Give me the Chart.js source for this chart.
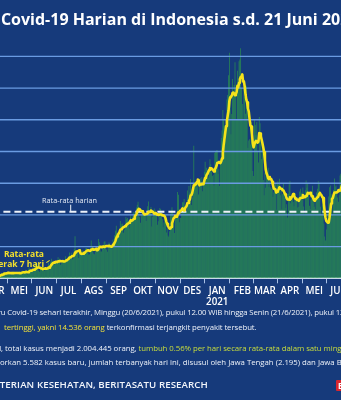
<!DOCTYPE html>
<html><head><meta charset="utf-8">
<script src="https://cdn.jsdelivr.net/npm/chart.js@4"></script>
<style>
html,body{margin:0;padding:0;}
body{width:341px;height:400px;overflow:hidden;background:#163a7b;position:relative;font-family:'Open Sans',sans-serif;color:#fff;}
#wrap{position:absolute;left:-40px;top:0;width:411px;height:320px;}
.t{position:absolute;left:0;white-space:nowrap;line-height:1;}
.f{font-size:7.8px;color:#eef2f9;}
.y1{color:#f1e13a;}
.y2{color:#c9de3c;}
</style></head><body>
<div id="wrap"><canvas id="c"></canvas></div>

<div class="t" data-ax="1" style="top:11px;font-size:16px;font-weight:700;">Kasus <span class="a">Covid-19 Harian di Indonesia s.d. 21 Juni 2021</span></div>

<div class="t" data-ax="42" style="top:197px;font-size:7.3px;color:#e6ecf6;"><span class="a">Rata-rata harian</span></div>
<div class="t" style="top:249px;left:-30px;width:74px;text-align:right;font-size:8.5px;font-weight:700;color:#f3e02c;line-height:10px;">Rata-rata<br>bergerak 7 hari</div>
<div style="position:absolute;left:46px;top:261px;width:4px;height:1px;background:#f3e02c;transform:rotate(-35deg);"></div>

<div class="t f" data-ax="7.3" data-bx="341" style="top:309px;">Pertambahan kasus baru <span class="a">Covid-19</span> sehari terakhir, Minggu (20/6/2021), pukul 12.00 WIB hingga Senin (21/6/2021), pukul 1<span class="b">2.00 WIB,</span></div>
<div class="t f" data-ax="37" data-bx="256" style="top:324px;"><span class="y1">tertinggi, <span class="a">yakni</span> 14.536 orang</span> terkonfirmasi terjangkit penyakit tersebut.<span class="b"></span></div>
<div class="t f" data-ax="5" data-bx="341.5" style="top:345px;">Secara nasional, <span class="a">total</span> kasus menjadi 2.004.445 orang, <span class="y2">tumbuh 0.56% per hari secara rata-rata dalam satu ming<span class="b">gu</span></span></div>
<div class="t f" data-ax="22.7" data-bx="341.5" style="top:359px;">DKI Jakarta melaporkan <span class="a">5.582</span> kasus baru, jumlah terbanyak hari ini, disusul oleh Jawa Tengah (2.195) dan Jawa B<span class="b">arat</span></div>
<div class="t" data-ax="36.7" data-bx="207" style="top:380px;font-size:9.7px;font-weight:600;color:#f2f5fb;">SUMBER: KEMENTERIAN <span class="a">KESEHATAN,</span> BERITASATU RESEARCH<span class="b"></span></div>
<div style="position:absolute;left:336px;top:380px;width:20px;height:11px;background:#d9262f;border-radius:1px;color:#fff;font:700 8px 'Open Sans';line-height:11px;padding-left:2px;">B1</div>

<script>
// ---- data (daily new cases, Indonesia, from 2 Mar 2020) ----
const tanggalMulai = [2020, 2, 2];
const bulanLabel = ['JAN','FEB','MAR','APR','MEI','JUN','JUL','AGS','SEP','OKT','NOV','DES'];
const rataHarian = 4202;
const harian = [
2,0,0,0,2,0,2,13,8,7,0,35,27,21,17,38,55,82,60,81,64,65,107,105,103,153,109,130,129,114,
149,113,196,106,181,218,247,218,337,219,330,399,316,282,297,380,407,325,327,185,375,283,357,436,396,275,214,415,260,347,
433,292,349,395,484,367,338,336,533,387,233,484,689,568,490,529,489,496,486,693,973,634,949,526,479,415,686,687,678,557,700,
467,609,684,585,703,993,672,847,1043,1241,979,1111,1014,857,1017,1106,1031,1331,1041,1226,862,954,1051,1113,1178,1041,1385,1198,1082,1293,
1385,1624,1301,1447,1607,1209,1268,1853,2657,1611,1671,1681,1282,1591,1522,1574,1462,1752,1639,1693,1655,1882,1906,1761,1868,1492,1525,1748,2381,1904,2040,
1560,1519,1679,1922,1815,1882,2473,2277,1893,1687,1693,1942,2098,2307,2345,2081,1821,1673,1902,2266,2197,2090,2037,1877,2447,2306,2719,3003,3308,2858,2743,
2775,3075,3622,3269,3444,3444,2880,3046,3307,3861,3737,3806,3636,3141,3507,3963,3635,3891,4168,3989,4176,4071,4465,4634,4823,4494,3874,3509,4002,4284,
4174,4317,4007,3992,3622,4056,4538,4850,4094,4294,4497,3267,3906,4127,4411,4301,4105,4070,3373,3602,4267,4432,4369,4070,3732,3222,3520,4029,3565,2897,3143,
2696,2618,2973,4065,4262,4478,4262,3880,2853,3779,3770,4173,5444,5272,3535,3807,3807,4265,4798,4792,4998,4360,4442,4192,5534,4917,5828,5418,6267,4617,
5092,5533,8369,5803,6027,6089,5754,6058,5292,6033,6310,5938,6389,5489,6120,6726,7354,6689,6982,6848,6347,6930,7514,7199,6725,6459,6528,5854,7903,8002,8074,
8072,6585,6877,5826,7445,8854,9321,10617,10046,9640,8692,10047,11278,11557,12818,14224,11287,9086,10365,12568,11703,12191,13632,11788,9994,13094,11948,13695,13802,14518,12001,
10994,9961,11984,11434,10379,12156,10827,8242,8700,8776,8435,9869,8844,6765,6462,10029,9687,9039,9869,8054,7300,10180,9775,8493,7533,8232,6208,5241,
6680,5712,6808,6619,6971,5767,6172,5735,5633,5753,5144,5414,5599,6000,4329,5980,6116,5898,6279,5233,5656,4364,5324,6005,5112,5405,4445,4669,3842,5331,5937,
6142,4737,5105,5145,4829,4549,5325,5332,4900,4471,5115,4503,5476,5656,5390,4940,5722,4534,4101,5549,6177,5720,5943,5436,4585,4369,4952,5241,5833,4801,
4512,5180,4360,5430,5650,6130,5960,5020,4510,4020,4640,5120,3450,2630,2385,3080,3600,4295,5158,5746,5862,5296,5094,3988,5576,6293,5797,5862,5465,5093,4824,
5246,6486,6594,6878,6555,6993,6294,6054,7725,8892,8083,8161,9868,8189,8161,9944,12624,12990,12906,13737,14536
];
const rata7 = [
0,0,0,0,1,1,1,2,4,5,5,9,13,16,16,21,28,39,43,51,57,64,73,81,84,97,101,110,119,120,
127,128,134,134,141,154,173,183,215,218,250,281,295,300,311,318,344,344,333,315,328,326,323,327,337,330,334,339,336,335,
334,319,330,356,366,381,380,366,400,406,383,383,429,461,483,483,497,535,535,536,594,614,674,680,677,667,666,625,631,575,600,
599,626,626,611,615,677,673,728,790,869,925,984,987,1013,1037,1046,1016,1067,1057,1087,1088,1079,1071,1083,1061,1061,1083,1131,1150,1184,
1223,1287,1324,1333,1391,1409,1406,1473,1620,1665,1697,1707,1718,1764,1716,1562,1540,1552,1546,1605,1614,1665,1713,1755,1772,1751,1727,1740,1812,1811,1851,
1807,1811,1833,1858,1777,1774,1836,1938,1992,1993,1960,1978,2009,1985,1995,2022,2041,2038,2032,2056,2041,2004,1998,2006,2117,2174,2239,2354,2528,2645,2769,
2816,2926,3055,3093,3112,3196,3216,3254,3287,3322,3388,3440,3468,3505,3571,3664,3632,3654,3706,3756,3904,3985,4056,4199,4332,4379,4362,4267,4257,4231,
4166,4093,4024,4041,4057,4065,4101,4197,4166,4207,4279,4228,4207,4148,4085,4115,4088,4027,4042,3998,4018,4021,4031,4026,3978,3956,3945,3911,3787,3576,3444,
3296,3210,3132,3137,3236,3462,3622,3791,3825,3940,3898,3885,4023,4167,4118,4254,4258,4329,4418,4325,4286,4404,4495,4550,4731,4748,4896,4956,5228,5253,
5382,5382,5875,5871,5958,5933,6095,6233,6199,5865,5938,5925,5968,5930,5939,6144,6332,6386,6536,6601,6724,6839,6952,6930,6935,6860,6815,6744,6883,6953,7078,
7270,7288,7338,7334,7269,7390,7569,7932,8427,8821,9231,9602,9949,10268,10583,11179,11415,11471,11516,11701,11722,11632,11547,11619,11749,12139,12050,12335,12565,12691,12722,
12865,12417,12422,12099,11610,11273,11105,10712,10532,10073,9645,9572,9099,8519,8264,8454,8584,8671,8671,8558,8634,9165,9129,8959,8743,8510,8246,7952,
7452,6871,6631,6500,6320,6257,6390,6255,6244,6093,5882,5660,5636,5611,5410,5460,5512,5619,5743,5691,5642,5647,5553,5537,5425,5300,5187,5046,4972,4973,4963,
5110,5015,5109,5177,5318,5206,5119,5003,5026,4936,4932,4885,5017,5065,5073,5079,5257,5174,5117,5127,5202,5249,5392,5351,5359,5397,5312,5178,5194,5031,
4899,4984,4983,5051,5109,5152,5317,5390,5294,5245,5133,5057,4674,4198,3822,3618,3558,3508,3514,3842,4303,4719,5007,5062,5245,5408,5415,5415,5439,5439,5558,
5511,5539,5653,5798,5953,6225,6435,6550,6727,7056,7228,7457,7868,8139,8440,8757,9290,9991,10669,11221,12128
];

// categories: one date per daily value
const tanggal = harian.map((_, i) => new Date(Date.UTC(tanggalMulai[0], tanggalMulai[1], tanggalMulai[2] + i)));

function labelBulan(i) {
  const d = tanggal[i];
  if (!d || d.getUTCDate() !== 1) return null;
  const m = d.getUTCMonth();
  return m === 0 ? [bulanLabel[m], String(d.getUTCFullYear())] : bulanLabel[m];
}

const deco = {
  id: 'deco',
  afterDatasetDraw(chart, args) {
    if (args.index !== 0) return;
    const { ctx, chartArea: a, scales: { y } } = chart;
    ctx.save();
    ctx.strokeStyle = '#6a9be2';
    ctx.lineWidth = 1.4;
    for (const t of y.ticks) {
      if (t.value <= 0 || t.value >= y.max) continue;
      const py = y.getPixelForValue(t.value);
      ctx.beginPath(); ctx.moveTo(a.left, py); ctx.lineTo(a.right, py); ctx.stroke();
    }
    const pa = y.getPixelForValue(rataHarian);
    ctx.strokeStyle = '#eef2f9';
    ctx.lineWidth = 2;
    ctx.setLineDash([7, 4]);
    ctx.beginPath(); ctx.moveTo(a.left, pa); ctx.lineTo(a.right, pa); ctx.stroke();
    ctx.setLineDash([]);
    ctx.lineWidth = 1;
    ctx.beginPath(); ctx.moveTo(110.7, pa - 7); ctx.lineTo(110.7, pa); ctx.stroke();
    ctx.restore();
  }
};

new Chart(document.getElementById('c'), {
  type: 'bar',
  data: {
    labels: tanggal.map(d => d.toISOString().slice(0, 10)),
    datasets: [
      { type: 'bar', data: harian, backgroundColor: '#2a8c51', barPercentage: 0.9, categoryPercentage: 1, order: 2 },
      { type: 'line', data: rata7, borderColor: '#f5e31a', borderWidth: 2.6, pointRadius: 0, tension: 0, order: 1, borderJoinStyle: 'round' }
    ]
  },
  options: {
    responsive: true,
    maintainAspectRatio: false,
    animation: false,
    devicePixelRatio: 1,
    events: [],
    layout: { padding: { left: 10.4, right: 15.2, top: 24.7, bottom: 0 } },
    plugins: { legend: { display: false }, tooltip: { enabled: false } },
    scales: {
      x: {
        offset: true,
        grid: { drawOnChartArea: false, drawTicks: true, tickLength: 5, color: '#a9c1e6', lineWidth: 1 },
        border: { display: true, color: '#d3e0f3', width: 2 },
        ticks: {
          autoSkip: false, maxRotation: 0, minRotation: 0, padding: 3,
          color: '#ffffff', font: { family: "'Open Sans', sans-serif", size: 9.8, weight: '600', lineHeight: 1.05 },
          callback: (v, i) => labelBulan(i)
        },
        afterFit: s => { s.height = 41.7; }
      },
      y: {
        min: 0, max: 16000,
        ticks: { stepSize: 2000, display: false },
        grid: { display: false },
        border: { display: false },
        afterFit: s => { s.width = 0; }
      }
    }
  },
  plugins: [deco]
});

// place text lines so that anchor words sit where they sit in the reference
document.querySelectorAll('.t[data-ax]').forEach(el => {
  const a = el.querySelector('.a');
  const b = el.querySelector('.b');
  const ax = parseFloat(el.dataset.ax);
  if (b && el.dataset.bx) {
    el.style.letterSpacing = '0px';
    const d0 = b.offsetLeft - a.offsetLeft;
    el.style.letterSpacing = '1px';
    const d1 = b.offsetLeft - a.offsetLeft;
    const ls = (parseFloat(el.dataset.bx) - ax - d0) / (d1 - d0);
    el.style.letterSpacing = ls.toFixed(3) + 'px';
  }
  el.style.left = (ax - a.offsetLeft) + 'px';
});
</script>
</body></html>
